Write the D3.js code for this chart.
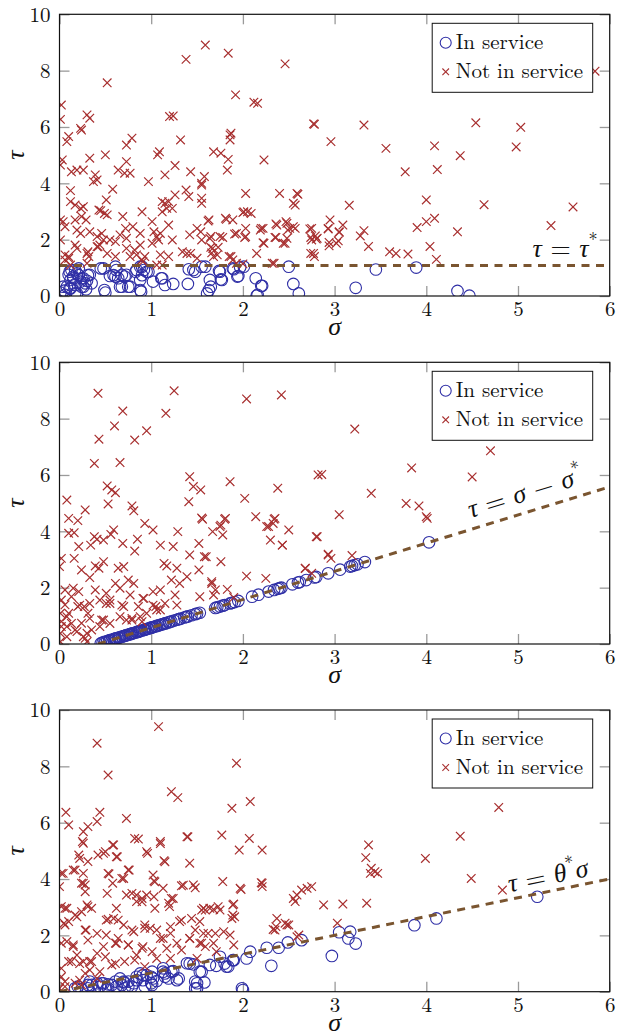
<!DOCTYPE html>
<html><head><meta charset="utf-8">
<script src="https://cdn.jsdelivr.net/npm/d3@7"></script>
<style>html,body{margin:0;padding:0;background:#fff;}svg{display:block;}</style>
</head><body>
<svg id="c" width="617" height="1035"></svg>
<script>
// ---------------- DATA ----------------
const xTicks = [0, 1, 2, 3, 4, 5, 6];
const yTicks = [0, 2, 4, 6, 8, 10];
const legendLabels = ["In service", "Not in service"];
const tauStar = 1.08, sigmaStar = 0.42, thetaStar = 0.667;

// Panel 1 (threshold tau = tau*)
const p1In = [[0.01,0.12],[0.05,0.19],[0.08,0.33],[0.12,0.57],[0.10,0.75],[0.13,0.92],[0.15,0.69],[0.19,0.80],[0.21,0.98],[0.23,0.51],[0.17,0.39],[0.24,0.33],[0.28,0.45],[0.33,0.75],[0.35,0.45],[0.29,0.24],[0.19,0.09],[0.06,0.04],[0.04,0.33],[0.12,0.27],[0.45,0.98],[0.49,0.21],[0.50,0.12],[0.55,0.71],[0.61,1.04],[0.61,0.69],[0.66,0.33],[0.68,0.75],[0.73,0.75],[0.75,0.33],[0.83,0.86],[0.88,1.04],[0.88,0.57],[0.89,0.15],[0.92,0.92],[0.97,0.86],[1.02,0.51],[1.12,0.63],[1.15,0.39],[1.24,0.43],[1.40,0.43],[1.41,0.95],[1.48,0.86],[1.59,1.04],[1.61,0.09],[1.63,0.21],[1.64,0.57],[1.65,0.33],[1.75,0.86],[1.77,0.57],[1.90,0.95],[1.94,0.69],[2.01,1.04],[2.14,0.63],[2.16,0.04],[2.21,0.36],[2.50,1.04],[2.55,0.43],[2.61,0.09],[0.30,0.54],[0.26,0.63],[3.23,0.29],[3.45,0.94],[3.89,1.01],[4.34,0.18],[4.47,0.01],[0.11,0.86],[0.17,0.92],[0.21,0.74],[0.15,0.63],[0.24,0.63],[0.31,0.74],[0.26,0.33],[0.11,0.27],[0.17,0.09],[0.48,0.98],[0.59,0.74],[0.62,0.92],[0.64,0.63],[0.71,0.69],[0.68,0.33],[0.77,0.33],[0.84,0.92],[0.90,1.04],[0.90,0.74],[0.88,0.21],[0.95,0.86],[1.11,0.63],[1.46,0.92],[1.55,1.04],[1.74,0.89],[1.76,0.59],[1.89,0.98],[1.95,0.71],[1.97,1.02],[2.20,0.36],[2.15,0.01]];
const p1Out = [[0.02,6.78],[0.01,6.27],[0.52,7.57],[1.59,8.91],[1.38,8.40],[1.84,8.62],[2.46,8.24],[1.92,7.14],[2.12,6.88],[2.16,6.84],[2.77,6.11],[0.30,6.43],[0.33,6.31],[0.23,5.95],[0.24,5.89],[0.10,5.66],[0.08,5.48],[1.20,6.37],[1.24,6.39],[1.32,5.54],[0.79,5.60],[0.73,5.36],[1.87,5.78],[1.86,5.54],[1.86,5.72],[1.68,5.12],[1.76,5.07],[1.84,4.85],[1.83,4.47],[2.23,4.83],[0.50,5.01],[0.33,4.89],[0.03,4.83],[0.01,4.65],[0.13,4.41],[0.19,4.47],[0.26,4.47],[0.64,4.47],[0.71,4.36],[0.77,4.36],[0.73,4.77],[1.07,5.01],[1.09,5.12],[1.15,4.30],[1.26,4.63],[1.43,4.41],[0.97,4.06],[0.39,4.30],[0.41,4.12],[0.37,4.06],[0.58,3.79],[0.12,3.74],[0.12,3.35],[0.17,3.23],[0.23,3.11],[0.26,3.17],[0.51,3.41],[0.43,3.05],[0.45,3.03],[0.49,2.93],[0.52,2.88],[0.90,2.99],[0.69,2.82],[0.72,2.40],[0.01,2.70],[0.04,2.64],[0.06,2.46],[0.17,2.70],[0.24,2.82],[0.29,2.70],[0.19,2.34],[0.23,2.22],[0.33,2.28],[0.41,2.11],[0.46,2.22],[0.48,1.99],[0.55,1.99],[0.66,2.17],[0.73,2.05],[0.80,2.46],[0.88,2.22],[1.01,2.64],[1.03,2.28],[1.06,2.11],[1.10,2.22],[1.08,1.99],[1.12,3.35],[1.15,3.29],[1.19,3.35],[1.17,3.11],[1.23,3.11],[1.26,3.59],[1.12,2.99],[1.38,3.76],[1.41,3.53],[1.55,4.00],[1.58,4.24],[1.55,3.47],[1.55,3.29],[1.19,2.52],[1.23,1.99],[1.42,2.17],[1.50,2.40],[1.54,2.28],[1.63,2.70],[1.65,2.11],[1.75,2.11],[1.81,2.76],[1.89,2.70],[1.93,2.22],[2.03,2.11],[2.03,2.40],[2.01,2.99],[2.03,3.64],[2.05,2.99],[2.09,2.93],[2.19,2.34],[2.22,2.40],[2.23,1.87],[2.15,1.51],[2.37,2.52],[2.40,3.64],[2.47,2.64],[2.49,2.34],[2.55,3.29],[2.57,3.23],[2.59,3.64],[2.55,2.46],[2.57,2.40],[2.35,2.08],[2.46,1.87],[2.75,2.40],[2.75,1.99],[2.77,1.51],[2.81,2.05],[2.32,1.16],[0.01,1.99],[0.06,1.46],[0.10,1.34],[0.17,1.81],[0.19,1.69],[0.30,1.51],[0.32,1.40],[0.41,1.75],[0.44,1.81],[0.52,1.51],[0.61,1.40],[0.73,1.69],[0.77,1.40],[0.84,1.46],[0.88,1.81],[0.93,1.40],[0.90,1.28],[1.01,1.87],[1.10,1.46],[1.06,1.10],[1.12,1.10],[1.19,1.40],[1.34,1.57],[1.39,1.51],[1.43,1.51],[1.67,1.69],[1.68,1.40],[1.72,1.46],[1.87,1.40],[1.93,1.16],[1.50,1.34],[0.30,1.16],[0.12,1.10],[0.10,1.40],[0.06,1.28],[0.31,1.57],[0.42,1.75],[0.61,1.93],[0.82,1.63],[0.91,1.22],[1.55,3.94],[2.60,3.61],[2.00,2.96],[1.62,2.66],[1.82,2.72],[2.20,2.40],[2.36,2.56],[2.48,2.58],[2.51,2.40],[2.73,2.38],[2.93,2.40],[2.95,2.70],[3.05,2.28],[3.09,2.52],[1.78,2.08],[1.91,2.20],[2.02,2.08],[2.22,1.89],[2.36,2.08],[2.48,2.05],[2.44,1.87],[2.80,2.02],[2.78,1.40],[2.94,1.78],[3.02,1.87],[1.64,2.04],[1.65,1.73],[1.66,1.53],[1.73,1.73],[1.55,1.99],[1.85,1.40],[1.89,1.28],[2.00,1.14],[2.34,1.16],[5.84,7.98],[2.78,6.10],[3.32,6.07],[2.96,5.48],[3.56,5.24],[4.09,5.33],[4.37,4.98],[4.54,6.15],[5.03,5.99],[4.98,5.29],[3.77,4.41],[4.12,4.49],[3.16,3.22],[4.00,3.41],[4.63,3.24],[5.60,3.16],[5.36,2.50],[2.93,2.38],[3.05,2.26],[2.74,2.08],[2.79,2.13],[2.94,1.90],[3.04,1.96],[3.28,2.13],[3.32,2.32],[3.37,1.76],[2.74,1.51],[3.60,1.57],[3.67,1.51],[3.80,1.49],[3.90,2.43],[4.00,2.64],[4.09,2.76],[4.04,1.76],[4.11,1.30],[4.34,2.28]];

// Panel 2 (threshold tau = sigma - sigma*)
const p2In = [[0.45,0.02],[0.47,0.05],[0.49,0.08],[0.50,0.06],[0.52,0.10],[0.54,0.12],[0.55,0.14],[0.57,0.15],[0.59,0.17],[0.61,0.19],[0.62,0.20],[0.64,0.22],[0.66,0.24],[0.68,0.26],[0.70,0.28],[0.71,0.29],[0.73,0.31],[0.75,0.33],[0.77,0.35],[0.79,0.37],[0.80,0.38],[0.82,0.40],[0.84,0.42],[0.86,0.44],[0.88,0.46],[0.90,0.48],[0.92,0.50],[0.94,0.52],[0.96,0.54],[0.99,0.57],[1.01,0.59],[1.03,0.61],[1.06,0.64],[1.08,0.66],[1.10,0.68],[1.13,0.71],[1.16,0.74],[1.19,0.77],[1.22,0.80],[1.25,0.83],[1.28,0.86],[1.32,0.90],[1.36,0.94],[1.40,0.98],[1.44,1.02],[1.48,1.06],[1.53,1.11],[1.70,1.28],[1.75,1.33],[1.80,1.38],[1.86,1.44],[1.91,1.49],[1.95,1.53],[2.10,1.68],[2.17,1.75],[2.28,1.86],[2.34,1.92],[2.38,1.96],[2.42,2.00],[2.54,2.12],[2.60,2.18],[2.69,2.27],[2.78,2.36],[2.80,2.38],[2.93,2.51],[3.06,2.64],[3.17,2.75],[3.19,2.77],[3.22,2.80],[3.25,2.83],[3.33,2.91],[4.03,3.61],[0.60,0.18],[0.65,0.23],[0.72,0.30],[0.78,0.36],[0.85,0.43],[0.87,0.45],[0.93,0.51],[0.97,0.55],[1.00,0.58],[1.05,0.63],[1.12,0.70],[1.15,0.73],[1.20,0.78],[1.30,0.88],[1.38,0.96],[1.50,1.08],[1.72,1.30],[1.78,1.36],[1.88,1.46],[2.40,1.98],[2.62,2.20]];
const p2Out = [[0.42,8.90],[1.25,8.99],[2.04,8.70],[2.42,8.84],[1.16,8.19],[0.69,8.27],[0.60,7.74],[0.43,7.27],[0.82,7.24],[0.95,7.57],[0.38,6.41],[0.66,6.44],[1.42,5.94],[1.46,5.59],[1.54,5.47],[1.86,5.76],[0.52,5.61],[0.57,5.47],[0.61,5.37],[0.53,4.97],[0.08,5.11],[0.10,4.46],[0.20,4.38],[0.28,4.76],[0.79,4.90],[0.81,4.73],[0.93,4.28],[1.02,4.05],[1.41,5.05],[2.02,5.17],[2.14,4.52],[1.56,4.43],[1.81,4.46],[1.76,4.22],[1.67,3.99],[1.78,3.87],[1.29,3.99],[1.10,3.51],[1.24,3.46],[1.52,3.57],[1.60,3.10],[1.42,3.16],[2.26,4.17],[2.33,4.28],[2.35,4.46],[2.30,3.69],[2.43,3.51],[2.50,4.05],[2.81,3.81],[2.82,6.00],[0.59,4.05],[0.56,3.89],[0.48,3.69],[0.41,3.72],[0.38,3.81],[0.34,3.51],[0.69,3.57],[0.85,3.72],[0.82,3.30],[0.10,3.93],[0.16,3.95],[0.21,3.46],[0.02,3.04],[0.00,2.75],[0.16,3.04],[0.24,2.63],[0.33,2.36],[0.39,2.77],[0.43,2.69],[0.48,2.92],[0.64,2.69],[0.70,2.75],[0.75,2.27],[1.14,2.86],[1.17,2.77],[1.28,2.69],[1.39,2.39],[1.52,2.63],[1.76,2.92],[2.04,2.41],[2.25,2.33],[2.68,2.69],[1.66,2.21],[1.70,1.92],[1.83,1.94],[1.53,1.68],[1.22,2.27],[1.31,2.15],[1.10,1.92],[1.02,1.86],[0.92,1.62],[0.81,2.15],[0.06,1.92],[0.15,1.98],[0.21,1.86],[0.22,1.38],[0.27,1.33],[0.33,1.44],[0.01,1.09],[0.08,0.97],[0.13,0.73],[0.02,0.62],[0.08,0.26],[0.01,0.08],[0.33,0.91],[0.35,0.50],[0.39,1.92],[0.44,1.56],[0.51,1.80],[0.55,1.44],[0.61,2.15],[0.66,1.98],[0.77,1.74],[0.70,1.33],[0.55,0.73],[0.66,0.97],[0.79,0.85],[0.95,1.09],[1.05,1.33],[1.10,1.21],[0.88,0.97],[0.44,0.62],[0.48,0.85],[1.28,1.38],[1.26,1.74],[0.19,0.44],[0.26,0.26],[0.30,0.08],[0.02,1.56],[0.06,1.39],[0.13,1.68],[0.20,1.33],[0.10,1.09],[0.02,0.80],[0.08,0.62],[0.01,0.38],[0.17,0.50],[0.24,0.74],[0.30,0.38],[0.31,1.09],[0.28,0.20],[0.46,0.85],[0.51,1.44],[0.55,1.56],[0.68,1.38],[0.73,0.85],[0.79,0.91],[0.86,1.33],[0.91,1.62],[1.02,1.38],[1.06,1.21],[1.15,1.44],[0.90,0.79],[3.22,7.63],[4.70,6.86],[2.86,6.02],[3.84,6.25],[4.50,5.93],[3.40,5.35],[3.78,4.99],[3.92,4.90],[4.00,4.52],[4.01,4.46],[3.05,4.59],[2.80,3.81],[2.93,3.19],[2.96,3.04],[3.19,3.14],[2.68,2.68],[2.38,5.53],[2.34,4.43],[2.28,4.17],[2.43,3.51],[2.93,3.16],[2.75,2.51],[1.58,3.10],[1.80,4.43],[1.75,4.17],[1.55,4.47],[1.66,2.15],[1.68,1.74],[1.90,1.65]];

// Panel 3 (threshold tau = theta* sigma)
const p3In = [[0.17,0.12],[0.24,0.09],[0.31,0.12],[0.35,0.24],[0.37,0.06],[0.44,0.18],[0.48,0.30],[0.51,0.08],[0.57,0.24],[0.61,0.36],[0.66,0.47],[0.68,0.24],[0.71,0.12],[0.75,0.36],[0.79,0.18],[0.84,0.53],[0.88,0.65],[0.91,0.41],[0.95,0.59],[1.01,0.71],[1.01,0.24],[1.02,0.47],[1.13,0.71],[1.15,0.53],[1.13,0.83],[1.24,0.73],[1.30,0.47],[1.39,1.01],[1.46,0.97],[1.48,0.36],[1.50,0.12],[1.55,0.71],[1.58,0.33],[1.75,1.24],[1.71,0.92],[1.82,0.89],[1.90,1.12],[2.04,1.18],[2.08,1.42],[1.99,0.12],[2.26,1.56],[2.39,1.56],[2.31,0.92],[2.49,1.75],[2.64,1.83],[0.33,0.36],[0.41,0.30],[0.53,0.26],[0.62,0.18],[0.70,0.33],[0.81,0.30],[0.93,0.18],[1.06,0.38],[1.19,0.47],[1.64,0.95],[1.80,1.00],[1.84,0.89],[1.89,1.12],[2.00,0.06],[1.53,0.71],[2.97,1.27],[3.05,2.11],[3.17,2.13],[3.15,1.89],[3.23,1.71],[3.87,2.36],[4.11,2.60],[5.21,3.37],[0.20,0.18],[0.31,0.24],[0.46,0.30],[0.53,0.12],[0.70,0.36],[0.75,0.18],[0.84,0.41],[0.91,0.59],[1.00,0.30],[1.00,0.53],[1.15,0.65],[1.22,0.71],[1.28,0.41],[1.42,1.00],[1.50,0.30],[1.48,0.12]];
const p3Out = [[1.08,9.41],[0.41,8.82],[0.53,7.69],[1.93,8.11],[1.22,7.10],[1.29,6.89],[1.88,6.51],[2.08,6.75],[0.07,6.37],[0.10,5.92],[0.44,6.37],[0.41,6.04],[0.31,5.86],[0.26,5.68],[0.73,6.15],[0.25,5.33],[0.21,4.85],[0.22,4.73],[0.31,4.62],[0.42,4.85],[0.50,4.97],[0.59,5.21],[0.62,4.79],[0.53,4.20],[0.58,3.85],[0.68,4.02],[0.75,4.32],[0.82,5.44],[0.86,5.42],[0.95,4.97],[1.10,5.33],[1.14,4.65],[1.02,4.14],[1.03,3.93],[0.00,3.73],[0.04,4.20],[0.15,4.32],[0.24,3.85],[0.28,3.79],[0.28,3.55],[0.02,3.02],[0.08,2.96],[0.30,3.08],[0.35,2.96],[0.06,2.37],[0.10,2.49],[0.19,2.66],[0.24,2.84],[0.29,2.19],[0.51,2.54],[0.59,2.60],[0.62,2.96],[0.70,2.37],[0.73,3.43],[0.79,3.49],[0.84,3.20],[0.90,3.31],[0.95,3.43],[1.03,3.37],[1.04,2.96],[1.13,3.67],[1.19,3.14],[1.24,3.31],[1.33,3.76],[1.31,2.49],[1.42,4.56],[1.39,5.50],[1.46,3.79],[1.48,3.69],[1.77,5.56],[1.78,3.91],[1.96,5.03],[1.97,3.67],[2.21,5.03],[2.21,3.85],[2.21,3.73],[1.57,2.96],[1.64,2.96],[1.73,3.02],[1.89,3.08],[1.89,2.72],[1.88,2.60],[1.91,2.66],[1.53,2.49],[1.62,2.07],[1.70,2.07],[1.79,2.13],[1.86,2.01],[1.55,1.72],[1.90,1.66],[1.48,2.19],[1.42,1.89],[2.37,2.60],[2.36,2.31],[2.46,2.43],[2.50,2.37],[2.35,2.19],[2.55,3.31],[2.59,3.43],[2.64,3.61],[2.70,3.67],[2.75,3.73],[2.61,2.01],[0.08,1.78],[0.15,1.66],[0.19,1.30],[0.13,1.07],[0.26,1.07],[0.33,1.07],[0.41,1.36],[0.48,1.60],[0.51,2.01],[0.61,1.72],[0.64,1.89],[0.75,1.66],[0.81,2.13],[0.90,1.54],[0.93,2.37],[0.99,2.25],[1.10,1.89],[1.21,2.07],[1.28,1.72],[1.21,1.18],[1.06,1.18],[1.01,1.42],[0.84,1.30],[0.71,1.07],[0.57,0.95],[0.44,0.71],[0.22,0.41],[0.24,0.24],[0.06,0.36],[0.02,0.83],[0.00,0.12],[0.33,0.77],[1.50,1.18],[1.71,1.42],[2.07,5.44],[1.98,3.63],[2.20,3.87],[2.57,3.20],[2.88,3.08],[3.09,3.11],[1.90,3.11],[1.59,2.90],[1.68,2.92],[1.75,2.90],[2.48,2.37],[2.33,2.21],[1.57,2.07],[3.03,2.43],[2.59,1.95],[1.53,1.72],[1.59,1.60],[1.68,1.72],[4.79,6.54],[4.37,5.52],[3.37,5.21],[3.34,4.76],[3.40,4.38],[3.44,4.26],[3.39,4.20],[3.47,4.20],[3.99,4.73],[4.49,4.02],[4.83,3.61],[3.35,3.14],[1.10,5.26],[1.40,5.50],[0.26,5.27],[0.58,5.21],[0.48,4.91],[0.63,4.79],[0.96,4.91],[1.15,4.61],[0.02,4.20],[0.17,4.32],[0.26,4.20],[0.54,4.18],[0.70,4.02],[0.76,4.32],[1.04,3.90],[1.35,3.78],[0.26,3.85],[0.52,3.49],[0.84,3.43],[0.90,3.19],[1.22,3.31],[1.20,3.02],[1.55,2.90],[0.06,2.96],[0.17,2.72],[0.31,3.02],[0.53,2.57],[0.64,2.54],[1.33,2.54],[1.44,2.60],[0.05,2.43],[0.28,2.19],[0.41,2.07],[0.79,2.19],[0.93,2.25],[1.06,2.19],[1.13,1.89],[1.21,2.31],[1.42,1.89],[0.02,1.72],[0.15,1.60],[0.31,1.83],[0.62,1.72],[0.75,1.66],[0.91,1.60],[1.17,1.54],[1.33,1.48],[0.10,1.07],[0.22,1.00],[0.35,1.07],[0.50,1.24],[0.61,1.00],[0.82,1.12],[0.93,0.89],[0.02,0.53],[0.17,0.30],[0.06,0.18],[0.28,0.65],[0.41,0.47]];

// ---------------- DRAW ----------------
const FONT = '"Latin Modern Roman"';
const GREEK = '"Liberation Serif"';
const C_IN = "#2f2fa6", C_OUT = "#a83030", C_LINE = "#7a5530";
const svg = d3.select("#c");
svg.append("rect").attr("width",617).attr("height",1035).attr("fill","#fff");

const L = 59.5, R = 609.7;
const panels = [
  {top:14.3, bottom:296, inS:p1In, outS:p1Out, kind:"h"},
  {top:362.3, bottom:644, inS:p2In, outS:p2Out, kind:"s"},
  {top:710, bottom:991.7, inS:p3In, outS:p3Out, kind:"t"}
];

function crossPath(r){ return `M${-r},${-r}L${r},${r}M${-r},${r}L${r},${-r}`; }

function mathText(g, parts, size){
  const t = g.append("text").attr("xml:space","preserve").style("white-space","pre")
    .style("font-family",FONT).style("font-size",size+"px").attr("fill","#111");
  let up = false;
  parts.forEach(p=>{
    const ts = t.append("tspan").text(p.t);
    if (p.i) ts.style("font-style","italic").style("font-family",GREEK);
    if (p.sup){ ts.style("font-size", (size*0.7)+"px").attr("dy", -size*0.42); up = true; }
    else if (up){ ts.attr("dy", size*0.42); up = false; }
  });
  return t;
}

panels.forEach(P=>{
  const x = d3.scaleLinear().domain([0,6]).range([L,R]);
  const y = d3.scaleLinear().domain([0,10]).range([P.bottom,P.top]);
  const g = svg.append("g");

  const tickStyle = sel => { sel.select(".domain").remove();
    sel.attr("font-family",null).attr("font-size",null);
    sel.selectAll(".tick line").attr("stroke","#9a9a9a").attr("stroke-width",1.3);
    sel.selectAll(".tick text").style("font-family",FONT).style("font-size","21px").attr("fill","#111"); };
  g.append("g").attr("transform",`translate(0,${P.bottom})`)
    .call(d3.axisBottom(x).tickValues(xTicks).tickFormat(d3.format("d")).tickSizeInner(-10).tickSizeOuter(0).tickPadding(5)).call(tickStyle);
  g.append("g").attr("transform",`translate(0,${P.top})`)
    .call(d3.axisTop(x).tickValues(xTicks).tickFormat("").tickSizeInner(-10).tickSizeOuter(0)).call(tickStyle);
  g.append("g").attr("transform",`translate(${L},0)`)
    .call(d3.axisLeft(y).tickValues(yTicks).tickFormat(d3.format("d")).tickSizeInner(-10).tickSizeOuter(0).tickPadding(9)).call(tickStyle);
  g.append("g").attr("transform",`translate(${R},0)`)
    .call(d3.axisRight(y).tickValues(yTicks).tickFormat("").tickSizeInner(-10).tickSizeOuter(0)).call(tickStyle);

  const cid = "clip"+Math.round(P.top);
  svg.append("clipPath").attr("id",cid).append("rect").attr("x",L).attr("y",P.top).attr("width",R-L).attr("height",P.bottom-P.top);
  const plot = g.append("g").attr("clip-path",`url(#${cid})`);

  plot.selectAll("circle.in").data(P.inS).join("circle").attr("class","in")
    .attr("cx",d=>x(d[0])).attr("cy",d=>y(d[1])).attr("r",5.8)
    .attr("fill","none").attr("stroke",C_IN).attr("stroke-width",1.1);
  plot.selectAll("path.out").data(P.outS).join("path").attr("class","out")
    .attr("transform",d=>`translate(${x(d[0])},${y(d[1])})`).attr("d",crossPath(4.3))
    .attr("stroke",C_OUT).attr("stroke-width",1.2).attr("fill","none");

  let lineData;
  if (P.kind==="h") lineData = [[0,tauStar],[6,tauStar]];
  else if (P.kind==="s") lineData = [[sigmaStar,0],[6,6-sigmaStar]];
  else lineData = [[0,0],[6,6*thetaStar]];
  plot.append("path").datum(lineData)
    .attr("d", d3.line().x(d=>x(d[0])).y(d=>y(d[1])))
    .attr("stroke",C_LINE).attr("stroke-width",3).attr("stroke-dasharray","8,6.5").attr("fill","none");

  g.append("rect").attr("x",L).attr("y",P.top).attr("width",R-L).attr("height",P.bottom-P.top)
    .attr("fill","none").attr("stroke","#111").attr("stroke-width",1.2);

  // annotation
  const ann = g.append("g");
  if (P.kind==="h"){
    ann.attr("transform",`translate(${R-12},${y(tauStar)-9})`);
    mathText(ann,[{t:"τ",i:1},{t:" = "},{t:"τ",i:1},{t:"*",sup:1}],26).attr("text-anchor","end");
  } else {
    const s0 = P.kind==="s" ? 5.14 : 5.36;
    const y0 = P.kind==="s" ? s0-sigmaStar : s0*thetaStar;
    const s1 = 6, y1 = P.kind==="s" ? 6-sigmaStar : 6*thetaStar;
    const ang = Math.atan2(y(y1)-y(y0), x(s1)-x(s0))*180/Math.PI;
    const off = P.kind==="s" ? 11 : 7;
    ann.attr("transform",`translate(${x(s0)},${y(y0)}) rotate(${ang}) translate(0,${-off})`);
    const parts = P.kind==="s"
      ? [{t:"τ",i:1},{t:" = "},{t:"σ",i:1},{t:" − "},{t:"σ",i:1},{t:"*",sup:1}]
      : [{t:"τ",i:1},{t:" = "},{t:"θ",i:1},{t:"*",sup:1},{t:"σ",i:1}];
    mathText(ann,parts,26).attr("text-anchor","middle");
  }

  // axis labels
  g.append("text").attr("x",x(3)).attr("y",P.bottom+39).attr("text-anchor","middle")
    .style("font-family",GREEK).style("font-style","italic").style("font-size","26px").attr("fill","#111").text("σ");
  g.append("text").attr("transform",`translate(24,${(P.top+P.bottom)/2}) rotate(-90)`).attr("text-anchor","middle")
    .style("font-family",GREEK).style("font-style","italic").style("font-size","26px").attr("fill","#111").text("τ");

  // legend
  const lg = g.append("g").attr("transform",`translate(${R-177.5},${P.top+9})`);
  lg.append("rect").attr("width",160.5).attr("height",69).attr("fill","#fff").attr("stroke","#111").attr("stroke-width",1);
  lg.append("circle").attr("cx",13.5).attr("cy",19.5).attr("r",5.5).attr("fill","none").attr("stroke",C_IN).attr("stroke-width",1.1);
  lg.append("path").attr("transform","translate(13.5,48.5)").attr("d",crossPath(3.3)).attr("stroke",C_OUT).attr("stroke-width",1.1);
  legendLabels.forEach((t,i)=>{
    lg.append("text").attr("x",23.5).attr("y",26+i*29).style("font-family",FONT).style("font-size","21px").attr("fill","#111").text(t);
  });
});
</script>
</body></html>
